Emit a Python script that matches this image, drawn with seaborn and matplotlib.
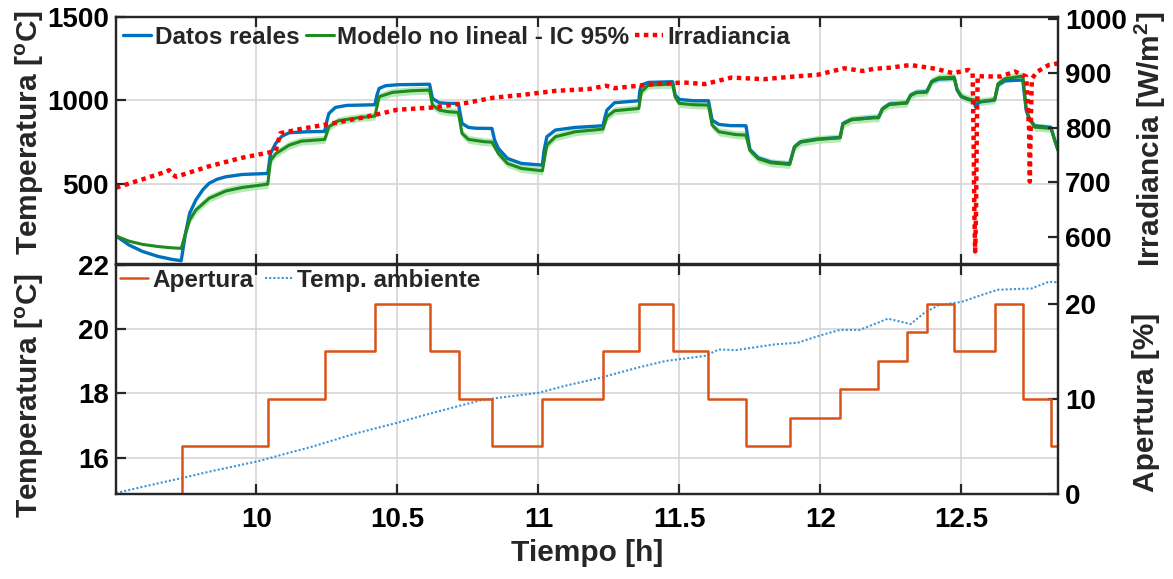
import matplotlib
matplotlib.use('Agg')
import numpy as np
import pandas as pd
import matplotlib.pyplot as plt
from matplotlib.lines import Line2D
import seaborn as sns

# ---------------- data ----------------
t_real = [9.502, 9.548, 9.595, 9.65, 9.70, 9.733, 9.748, 9.763, 9.785, 9.81, 9.832, 9.86, 9.891, 9.95, 10.04,
          10.05, 10.068, 10.09, 10.116, 10.18, 10.242, 10.25, 10.257, 10.28, 10.32, 10.42,
          10.427, 10.435, 10.458, 10.5, 10.614, 10.624, 10.648, 10.68, 10.716,
          10.729, 10.752, 10.78, 10.835, 10.845, 10.858, 10.89, 10.94, 11.014,
          11.02, 11.03, 11.06, 11.13, 11.229, 11.236, 11.243, 11.27, 11.356,
          11.36, 11.365, 11.39, 11.476, 11.485, 11.5, 11.55, 11.603,
          11.616, 11.64, 11.68, 11.736, 11.75, 11.78, 11.825, 11.891,
          11.908, 11.93, 11.99, 12.07, 12.08, 12.11, 12.19, 12.206,
          12.22, 12.245, 12.306, 12.32, 12.34, 12.377, 12.395, 12.42, 12.475,
          12.485, 12.5, 12.525, 12.545, 12.55, 12.56, 12.57, 12.618,
          12.63, 12.655, 12.718, 12.73, 12.74, 12.76, 12.818, 12.83, 12.843]
temp_real = [187, 133, 95, 65, 47, 39, 200, 323, 403, 465, 503, 527, 542, 556, 562,
             682, 742, 785, 806, 812, 814, 880, 922, 958, 970, 974,
             1030, 1072, 1088, 1094, 1097, 1012, 986, 982, 982,
             862, 838, 833, 832, 760, 712, 652, 622, 612,
             700, 782, 822, 838, 848, 900, 942, 986, 998,
             1060, 1092, 1108, 1112, 1032, 1006, 998, 998,
             882, 856, 849, 848, 705, 655, 630, 620,
             722, 752, 768, 778, 862, 886, 898, 898,
             950, 978, 986, 1032, 1048, 1052, 1112, 1128, 1132,
             1062, 1022, 1006, 998, 962, 985, 992, 1002,
             1092, 1118, 1122, 942, 892, 848, 838, 768, 702]

t_model = [9.502, 9.548, 9.595, 9.65, 9.70, 9.733, 9.748, 9.763, 9.785, 9.832, 9.891, 9.95, 10.04,
           10.05, 10.068, 10.116, 10.16, 10.242, 10.257, 10.29, 10.36, 10.42,
           10.435, 10.482, 10.55, 10.614, 10.624, 10.648, 10.68, 10.716,
           10.729, 10.752, 10.81, 10.835, 10.858, 10.89, 10.94, 11.014,
           11.03, 11.06, 11.13, 11.229, 11.243, 11.27, 11.356,
           11.365, 11.39, 11.476, 11.485, 11.5, 11.55, 11.603,
           11.616, 11.64, 11.7, 11.736, 11.75, 11.78, 11.825, 11.891,
           11.908, 11.93, 11.99, 12.07, 12.08, 12.11, 12.19, 12.206,
           12.22, 12.245, 12.306, 12.32, 12.34, 12.377, 12.395, 12.42, 12.475,
           12.485, 12.5, 12.525, 12.55, 12.57, 12.618,
           12.63, 12.655, 12.718, 12.73, 12.74, 12.76, 12.818, 12.83, 12.843]
temp_model = [187, 156, 137, 124, 116, 113, 200, 283, 343, 413, 457, 478, 498,
              640, 680, 732, 756, 766, 842, 878, 896, 906,
              1022, 1048, 1058, 1062, 972, 942, 932, 928,
              802, 766, 752, 750, 682, 622, 592, 578,
              732, 782, 812, 828, 902, 938, 952,
              1052, 1092, 1098, 1020, 982, 974, 972,
              852, 812, 795, 792, 700, 650, 626, 616,
              720, 750, 766, 776, 858, 884, 896, 896,
              948, 976, 984, 1030, 1046, 1050, 1115, 1135, 1140,
              1065, 1025, 1008, 1000, 994, 1004,
              1100, 1130, 1146, 950, 895, 840, 832, 768, 700]
ic95_half = 24.0       # half width of the 95 % band (deg C)
ic95_start = 9.745     # band visible from this time on

t_irr = [9.502, 9.6, 9.68, 9.69, 9.70, 9.715, 9.83, 9.95, 10.068, 10.075, 10.08, 10.085, 10.16, 10.27,
         10.39, 10.5, 10.624, 10.74, 10.84, 10.94, 11.06, 11.18, 11.24, 11.27, 11.355, 11.415,
         11.515, 11.59, 11.685, 11.8, 11.91, 11.99, 12.085, 12.15, 12.19, 12.245, 12.32, 12.41,
         12.47, 12.525, 12.54, 12.543, 12.546, 12.549, 12.552, 12.555, 12.558, 12.58, 12.64,
         12.69, 12.73, 12.74, 12.743, 12.746, 12.75, 12.77, 12.81, 12.843]
irr = [690, 706, 719.5, 722, 715, 710, 729, 745, 757, 770, 781, 790, 798, 808,
       820, 833, 837, 845, 855, 860, 867.5, 871, 877, 872.5, 877, 880,
       883, 880, 892, 889, 894, 897, 909, 904, 908, 910, 915, 908,
       900, 906, 900, 800, 650, 573, 640, 800, 895, 894, 894,
       903, 894, 800, 701, 800, 890, 903, 915, 918]

t_amb = [9.502, 9.6, 9.737, 9.85, 10.0, 10.2, 10.35, 10.5, 10.614, 10.8, 11.0, 11.1, 11.22, 11.35,
         11.45, 11.59, 11.64, 11.7, 11.84, 11.92, 12.0, 12.07, 12.14, 12.24, 12.32, 12.37, 12.42,
         12.5, 12.58, 12.63, 12.75, 12.81, 12.843]
temp_amb = [14.9, 15.1, 15.37, 15.6, 15.88, 16.35, 16.75, 17.09, 17.37, 17.8, 18.02, 18.25, 18.49, 18.8,
            19.01, 19.17, 19.37, 19.35, 19.53, 19.58, 19.81, 19.98, 19.98, 20.33, 20.16, 20.52, 20.75,
            20.85, 21.09, 21.23, 21.27, 21.48, 21.46]

t_ap = [9.502, 9.737, 10.041, 10.242, 10.421, 10.614, 10.718, 10.835, 11.014, 11.229, 11.356, 11.476,
        11.603, 11.736, 11.891, 12.07, 12.206, 12.306, 12.377, 12.475, 12.618, 12.718, 12.818, 12.843]
apertura = [0, 5, 10, 15, 20, 15, 10, 5, 10, 15, 20, 15, 10, 5, 8, 11, 14, 17, 20, 15, 20, 10, 5, 5]

x_ticks = [10, 10.5, 11, 11.5, 12, 12.5]
x_tick_labels = ['10', '10.5', '11', '11.5', '12', '12.5']

# ---------------- style ----------------
sns.set_theme(style='ticks')
plt.rcParams['font.family'] = ['Liberation Sans', 'DejaVu Sans']
plt.rcParams['font.weight'] = 'bold'
plt.rcParams['mathtext.fontset'] = 'custom'
plt.rcParams['mathtext.rm'] = 'Liberation Sans:bold'
plt.rcParams['mathtext.it'] = 'Liberation Sans:bold'
plt.rcParams['mathtext.bf'] = 'Liberation Sans:bold'
plt.rcParams['axes.edgecolor'] = '#262626'
plt.rcParams['axes.linewidth'] = 1.6

C_REAL = '#0072BD'
C_MODEL = '#1f8a1f'
C_BAND = '#a9e6a9'
C_IRR = '#ff0000'
C_AP = '#D95319'
C_AMB = '#3d95d6'
C_GRID = '#d6d6d6'

TICK_FS = 20
LEG_FS = 17.5
YLAB_FS = 21.5
XLAB_FS = 21.5

fig = plt.figure(figsize=(11.73, 5.79), dpi=100)
ax1 = fig.add_axes([0.0989, 0.5440, 0.8031, 0.4266])
ax2 = ax1.twinx()
ax3 = fig.add_axes([0.0989, 0.1468, 0.8031, 0.3955])
ax4 = ax3.twinx()

df_real = pd.DataFrame({'t': t_real, 'T': temp_real})
df_model = pd.DataFrame({'t': t_model, 'T': temp_model})
df_model['vis'] = df_model['t'] >= ic95_start
df_irr = pd.DataFrame({'t': t_irr, 'G': irr})
df_amb = pd.DataFrame({'t': t_amb, 'T': temp_amb})
df_ap = pd.DataFrame({'t': t_ap, 'A': apertura})

# ---- top panel ----
band = df_model[df_model['vis']]
ax1.fill_between(band['t'], band['T'] - ic95_half, band['T'] + ic95_half,
                 color=C_BAND, lw=0, alpha=0.85, zorder=1)
sns.lineplot(data=df_real, x='t', y='T', ax=ax1, color=C_REAL, lw=2.4,
             estimator=None, sort=False, legend=False, zorder=3)
sns.lineplot(data=df_model, x='t', y='T', ax=ax1, color=C_MODEL, lw=2.2,
             estimator=None, sort=False, legend=False, zorder=4)
sns.lineplot(data=df_irr, x='t', y='G', ax=ax2, color=C_IRR, lw=3.2, linestyle=(0, (1, 1)),
             estimator=None, sort=False, legend=False)

ax1.set_xlim(9.5018, 12.843)
ax1.set_ylim(19, 1500)
ax2.set_ylim(550, 1003)
ax1.set_yticks([500, 1000, 1500])
ax2.set_yticks([600, 700, 800, 900, 1000])
ax1.set_xticks(x_ticks)
ax1.set_xticklabels([])
ax1.grid(True, color=C_GRID, lw=1.2)
ax1.set_xlabel('')
ax1.set_ylabel(r'Temperatura [$^\mathrm{o}$C]', fontsize=YLAB_FS, fontweight='bold')
ax2.set_ylabel(r'Irradiancia [W/m$^\mathrm{2}$]', fontsize=YLAB_FS, fontweight='bold')
ax2.set_xlabel('')

# ---- bottom panel ----
sns.lineplot(data=df_amb, x='t', y='T', ax=ax3, color=C_AMB, lw=1.5, linestyle=(0, (1, 1)),
             estimator=None, sort=False, legend=False)
sns.lineplot(data=df_ap, x='t', y='A', ax=ax4, color=C_AP, lw=1.8, drawstyle='steps-post',
             estimator=None, sort=False, legend=False)
ax3.set_xlim(9.5018, 12.843)
ax3.set_ylim(14.87, 22)
ax4.set_ylim(0, 24.1)
ax3.set_yticks([16, 18, 20, 22])
ax4.set_yticks([0, 10, 20])
ax3.set_xticks(x_ticks)
ax3.set_xticklabels(x_tick_labels)
ax3.grid(True, color=C_GRID, lw=1.2)
ax3.set_xlabel('Tiempo [h]', fontsize=XLAB_FS, fontweight='bold')
ax3.set_ylabel(r'Temperatura [$^\mathrm{o}$C]', fontsize=YLAB_FS, fontweight='bold')
ax4.set_ylabel('Apertura [%]', fontsize=YLAB_FS, fontweight='bold')
ax4.set_xlabel('')

for ax in (ax1, ax2, ax3, ax4):
    ax.tick_params(direction='in', length=7, width=1.6, labelsize=TICK_FS, colors='#262626',
                   labelcolor='black')
    for lab in ax.get_xticklabels() + ax.get_yticklabels():
        lab.set_fontweight('bold')
for ax in (ax1, ax3):
    ax.tick_params(axis='x', top=True, bottom=True, pad=9)
    ax.tick_params(axis='y', left=True, right=False, pad=5)
for ax in (ax2, ax4):
    ax.tick_params(axis='y', right=True, left=False, pad=5)

ax1.yaxis.set_label_coords(-0.074, 0.534)
ax3.yaxis.set_label_coords(-0.074, 0.428)
ax2.yaxis.set_label_coords(1.079, 0.506)
ax4.yaxis.set_label_coords(1.079, 0.40)
ax3.xaxis.set_label_coords(0.5, -0.195)

# ---- legends ----
h_top = [Line2D([], [], color=C_REAL, lw=2.4),
         Line2D([], [], color=C_MODEL, lw=2.2),
         Line2D([], [], color=C_IRR, lw=3.2, linestyle=(0, (1, 1)))]
ax2.legend(h_top, ['Datos reales', 'Modelo no lineal - IC 95%', 'Irradiancia'],
           loc='upper left', bbox_to_anchor=(0.0, 0.995), ncol=3, frameon=False,
           prop={'weight': 'bold', 'size': LEG_FS}, handlelength=1.15, handletextpad=0.15,
           columnspacing=0.25, borderaxespad=0.1, borderpad=0.2)
h_bot = [Line2D([], [], color=C_AP, lw=1.8),
         Line2D([], [], color=C_AMB, lw=1.5, linestyle=(0, (1, 1)))]
ax4.legend(h_bot, ['Apertura', 'Temp. ambiente'],
           loc='upper left', bbox_to_anchor=(-0.003, 1.015), ncol=2, frameon=False,
           prop={'weight': 'bold', 'size': LEG_FS}, handlelength=1.15, handletextpad=0.15,
           columnspacing=0.5, borderaxespad=0.1, borderpad=0.2)

fig.savefig('out.png', dpi=100)
